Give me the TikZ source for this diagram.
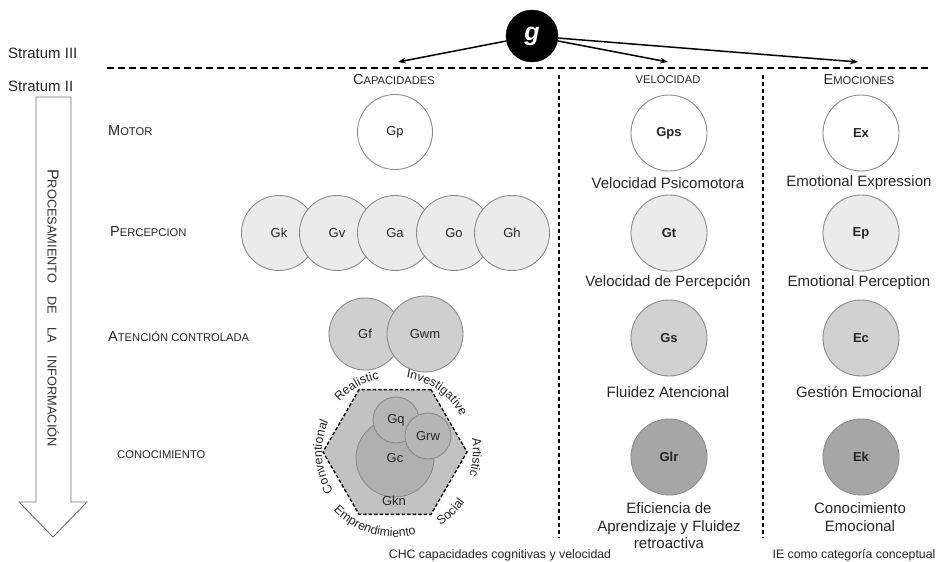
\documentclass[tikz,border=0pt]{standalone}
\usepackage{fontspec}
\setmainfont{Liberation Sans}
\usetikzlibrary{arrows.meta,decorations.text,shapes.geometric}
\newcommand{\smcp}[2]{{\fontsize{14.5}{17}\selectfont #1}{\fontsize{11.2}{17}\selectfont #2}}
\newcommand{\hexfont}{\fontsize{12.4}{14}\selectfont}
\begin{document}
\begin{tikzpicture}[x=1pt,y=1pt,
  txt/.style={font=\fontsize{15}{17.5}\selectfont, text=black!85, align=center, inner sep=0pt},
  foot/.style={font=\fontsize{12.3}{15}\selectfont, text=black!85, inner sep=0pt},
  hdr/.style={text=black!85, inner sep=0pt},
  lft/.style={text=black!85, inner sep=0pt, anchor=west},
  bub/.style={circle, draw=black!45, line width=0.9pt, inner sep=0pt, minimum size=75pt,
              font=\fontsize{13}{15}\selectfont, text=black!85},
  bbub/.style={bub, minimum size=76pt, font=\fontsize{13}{15}\selectfont\bfseries},
  hexlbl/.style={decorate, decoration={text along path, text align=center, text color=black!85}},
  sep/.style={line width=1.2pt, dash pattern=on 4pt off 3pt},
  gar/.style={line width=1.5pt, -{Stealth[length=8pt,width=6pt]}}
]
\useasboundingbox (0,0) rectangle (940,-562);

% strata
\node[lft, font=\fontsize{15}{17}\selectfont] (s3) at (8,-53) {Stratum III};
\node[lft, font=\fontsize{15}{17}\selectfont] (s2) at (8,-86) {Stratum II};

% top dashed line and dividers
\coordinate (hl) at (107,-68);
\coordinate (hr) at (930,-68);
\draw[line width=1.7pt, dash pattern=on 7pt off 4pt] (hl) -- (hr);
\coordinate (v1t) at (559,-75); \coordinate (v1b) at (559,-538);
\coordinate (v2t) at (763,-75); \coordinate (v2b) at (763,-538);
\draw[sep] (v1t) -- (v1b);
\draw[sep] (v2t) -- (v2b);

% g node and arrows
\node[circle, fill=black, draw=black, minimum size=52pt, inner sep=0pt,
      text=white, font=\fontsize{25}{28}\selectfont\bfseries\itshape] (g) at (532,-36) {g};
\coordinate (tC) at (398,-62);
\coordinate (tV) at (668,-62);
\coordinate (tE) at (858,-62);
\draw[gar] (g) -- (tC);
\draw[gar] (g) -- (tV);
\draw[gar] (g) -- (tE);

% headers
\node[hdr] (hC) at (394,-80) {\smcp{C}{APACIDADES}};
\node[hdr] (hV) at (668,-80) {{\fontsize{11.2}{17}\selectfont VELOCIDAD}};
\node[hdr] (hE) at (859,-80) {\smcp{E}{MOCIONES}};

% processing arrow
\draw[draw=black!55, line width=0.9pt, fill=white]
  (36,-97) -- (71,-97) -- (71,-502) -- (87,-502) -- (53,-537) -- (19,-502) -- (36,-502) -- cycle;
\node[text=black!80, inner sep=0pt, rotate=-90] (proc) at (53,-308)
  {{\fontsize{16}{18}\selectfont P}{\fontsize{12.8}{18}\selectfont ROCESAMIENTO\hspace{13pt}DE\hspace{13pt}LA\hspace{13pt}INFORMACIÓN}};

% left row labels
\node[lft] (lm) at (108,-131) {\smcp{M}{OTOR}};
\node[lft] (lp) at (110,-232) {\smcp{P}{ERCEPCION}};
\node[lft] (la) at (108,-337) {\smcp{A}{TENCIÓN CONTROLADA}};
\node[lft] (lk) at (117,-455) {{\fontsize{11.2}{17}\selectfont CONOCIMIENTO}};

% capacities column
\node[bub, fill=white] (Gp) at (395,-132) {Gp};
\node[bub, fill=black!8] (Gk) at (279,-233) {Gk};
\node[bub, fill=black!8] (Gv) at (337,-233) {Gv};
\node[bub, fill=black!8] (Ga) at (395,-233) {Ga};
\node[bub, fill=black!8] (Go) at (454,-233) {Go};
\node[bub, fill=black!8] (Gh) at (512,-233) {Gh};
\node[bub, fill=black!19, minimum size=72pt] (Gf) at (365,-334) {Gf};
\node[bub, fill=black!19, minimum size=76pt] (Gwm) at (425,-334) {Gwm};

% hexagon
\coordinate (H) at (395,-452);
\node[regular polygon, regular polygon sides=6, minimum size=144pt, inner sep=0pt,
      fill=black!24, draw=black, line width=1.3pt, dash pattern=on 3.5pt off 2pt] (hex) at (H) {};
\node[bub, fill=black!31, minimum size=78pt] (Gc) at (395,-458) {Gc};
\node[bub, fill=black!29, minimum size=46pt] (Gq) at (396,-420) {Gq};
\node[bub, fill=black!29, minimum size=46pt] (Grw) at (428,-436) {Grw};
\node[text=black!85, inner sep=0pt, font=\fontsize{13}{15}\selectfont] (Gkn) at (394,-501) {Gkn};

\path[hexlbl, decoration={text={|\hexfont|Realistic}}]
  (H) ++(155:75) arc[start angle=155, end angle=85, radius=75];
\path[hexlbl, decoration={text={|\hexfont|Investigative}}]
  (H) ++(105:75) arc[start angle=105, end angle=5, radius=75];
\path[hexlbl, decoration={text={|\hexfont|Artistic}}]
  (H) ++(32:78) arc[start angle=32, end angle=-40, radius=78];
\path[hexlbl, decoration={text={|\hexfont|Conventional}}]
  (H) ++(235:73) arc[start angle=235, end angle=133, radius=73];
\path[hexlbl, decoration={text={|\hexfont|Social}}]
  (H) ++(-83:86) arc[start angle=-83, end angle=-11, radius=86];
\path[hexlbl, decoration={text={|\hexfont|Emprendimiento}}]
  (H) ++(-163:85) arc[start angle=-163, end angle=-49, radius=85];

% speed column
\node[bbub, fill=white] (Gps) at (669,-133) {Gps};
\node[txt] (lGps) at (668,-183) {Velocidad Psicomotora};
\node[bbub, fill=black!8] (Gt) at (669,-233) {Gt};
\node[txt] (lGt) at (668,-283) {Velocidad de Percepción};
\node[bbub, fill=black!18] (Gs) at (669,-338) {Gs};
\node[txt] (lGs) at (668,-392) {Fluidez Atencional};
\node[bbub, fill=black!35] (Glr) at (669,-457) {Glr};
\node[txt] (lGlr) at (669,-526) {Eficiencia de\\Aprendizaje y Fluidez\\retroactiva};

% emotions column
\node[bbub, fill=white] (Ex) at (861,-133) {Ex};
\node[txt] (lEx) at (859,-183) {Emotional Expression};
\node[bbub, fill=black!8] (Ep) at (861,-233) {Ep};
\node[txt] (lEp) at (859,-283) {Emotional Perception};
\node[bbub, fill=black!18] (Ec) at (861,-338) {Ec};
\node[txt] (lEc) at (859,-392) {Gestión Emocional};
\node[bbub, fill=black!35] (Ek) at (861,-457) {Ek};
\node[txt] (lEk) at (860,-517) {Conocimiento\\Emocional};

% footers
\node[foot] (f1) at (500,-555) {CHC capacidades cognitivas y velocidad};
\node[foot] (f2) at (854,-555) {IE como categoría conceptual};
\end{tikzpicture}
\end{document}
